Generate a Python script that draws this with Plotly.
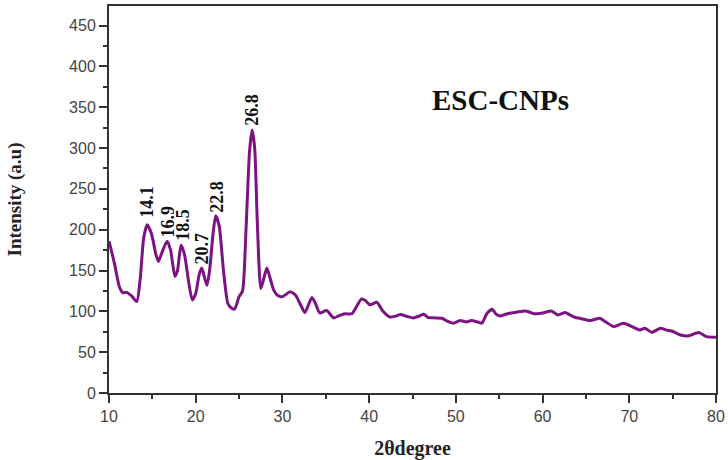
import plotly.graph_objects as go

two_theta = [10.0, 10.6, 11.2, 11.6, 12.1, 12.6, 13.2, 13.6, 14.0, 14.4, 14.9, 15.4, 15.7, 16.1, 16.7,
             17.1, 17.6, 17.9, 18.3, 18.7, 19.2, 19.6, 20.0, 20.4, 20.7, 21.0, 21.3, 21.6, 22.0, 22.3,
             22.7, 23.2, 23.7, 24.1, 24.5, 25.0, 25.4, 25.8, 26.2, 26.5, 26.8, 27.1, 27.5, 27.8, 28.2,
             28.6, 29.0, 29.5, 30.0, 30.9, 31.5, 32.0, 32.6, 33.0, 33.4, 33.8, 34.3, 35.1, 35.9, 36.6,
             37.2, 38.0, 38.5, 39.1, 39.6, 40.1, 40.9, 41.6, 42.4, 43.0, 43.6, 44.3, 45.1, 45.7, 46.3,
             46.8, 47.6, 48.4, 49.0, 49.7, 50.5, 51.2, 51.8, 52.5, 53.0, 53.6, 54.2, 54.6, 55.1, 55.6,
             56.2, 57.0, 58.0, 58.5, 59.0, 60.0, 61.0, 61.8, 62.6, 63.1, 63.7, 64.5, 65.5, 66.6, 67.3,
             68.2, 69.3, 70.2, 71.2, 71.8, 72.6, 73.6, 74.3, 74.9, 75.9, 76.8, 78.0, 78.9, 80.0]
intensity = [186, 160, 130, 123, 123, 119, 112, 140, 190, 206, 195, 170, 161, 172, 186,
             175, 143, 150, 181, 170, 135, 114, 122, 145, 153, 142, 132, 150, 195, 217,
             205, 150, 110, 104, 103, 118, 125, 200, 295, 322, 300, 210, 128, 138, 153,
             140, 126, 119, 118, 124, 120, 110, 98.5, 108, 117, 110, 98, 101, 92, 95,
             97, 97, 105, 115, 113, 108, 111, 100, 93, 94, 96, 94, 92, 94, 96.5,
             92.4, 92, 91.5, 88, 85.5, 88.7, 87, 88.7, 87, 85.5, 97.7, 102.6, 97, 94.4, 96,
             97.7, 99, 100.5, 99, 97, 98, 100.5, 95.6, 98.5, 96, 92.8, 91, 88.7, 91.5, 87,
             81.3, 85.4, 82, 77.2, 79.3, 74.4, 79.3, 77, 76, 71.1, 69.9, 74, 69, 68.3]

peak_labels = ["14.1", "16.9", "18.5", "20.7", "22.8", "26.8"]
peak_label_x = [14.35, 16.69, 18.54, 20.73, 22.42, 26.5]
peak_label_y = [212, 188, 184, 155, 218, 325]

fig = go.Figure()
fig.add_trace(go.Scatter(x=two_theta, y=intensity, mode="lines",
                         line=dict(color="#7d1282", width=3, shape="spline", smoothing=0.6),
                         showlegend=False, hoverinfo="skip"))

for t, x, y in zip(peak_labels, peak_label_x, peak_label_y):
    fig.add_annotation(x=x, y=y, text="<b>" + t + "</b>", showarrow=False, textangle=-90,
                       xanchor="center", yanchor="bottom",
                       font=dict(family="Liberation Serif", size=18, color="#111"))

fig.add_annotation(xref="paper", yref="paper", x=(501 - 109) / 607, y=(393 - 100) / 387,
                   text="<b>ESC-CNPs</b>", showarrow=False, xanchor="center", yanchor="middle",
                   font=dict(family="Liberation Serif", size=29, color="#111"))

axis_common = dict(showgrid=False, zeroline=False, showline=True, linecolor="#333", linewidth=2,
                   mirror=True, ticks="outside", ticklen=8, tickwidth=1.5, tickcolor="#333",
                   automargin=False,
                   tickfont=dict(family="Liberation Sans", size=16, color="#444"))

fig.update_xaxes(range=[10, 80], dtick=10, tick0=10,
                 minor=dict(dtick=5, ticks="outside", ticklen=4, tickcolor="#333"),
                 title=dict(text="<b>2θdegree</b>", font=dict(family="Liberation Serif", size=20, color="#222"),
                            standoff=18),
                 **axis_common)
fig.update_yaxes(range=[0, 474], dtick=50, tick0=0,
                 minor=dict(dtick=25, ticks="outside", ticklen=4, tickcolor="#333"),
                 title=dict(text="<b>Intensity (a.u)</b>", font=dict(family="Liberation Serif", size=19, color="#222"),
                            standoff=42),
                 **axis_common)

fig.update_layout(width=728, height=460, margin=dict(l=109, r=12, t=6, b=67),
                  plot_bgcolor="white", paper_bgcolor="white")

fig.write_html("out.html")
